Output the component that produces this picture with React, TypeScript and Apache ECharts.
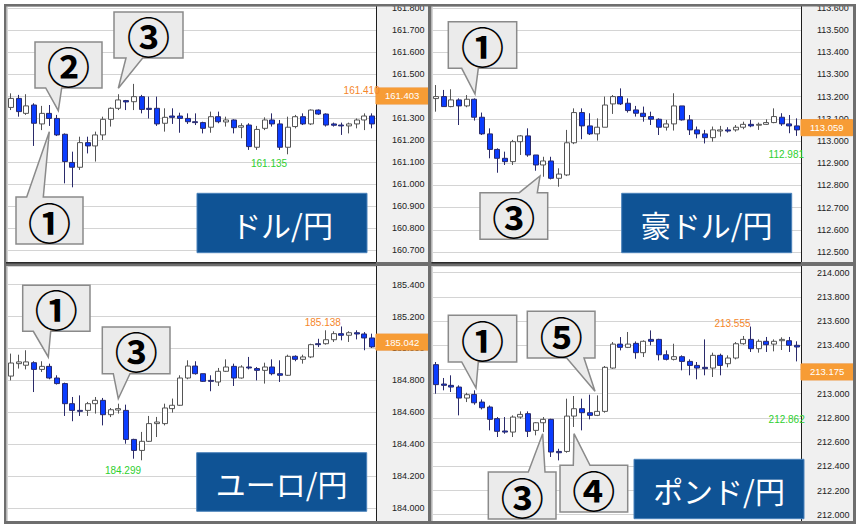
import React, { useEffect, useRef } from 'react';
import * as echarts from 'echarts';

// ---------- data (open, close, low, high) ----------
const categories = ['0','1','2','3','4','5','6','7','8','9','10','11','12','13','14','15','16','17','18','19','20','21','22','23','24','25','26','27','28','29','30','31','32','33','34','35','36','37','38','39','40','41','42','43','44','45','46','47'];
const dayBreakIndex = 36;

const usdJpy = [
  [161.348, 161.389, 161.336, 161.412], [161.389, 161.329, 161.306, 161.405], [161.321, 161.355, 161.314, 161.408],
  [161.359, 161.276, 161.173, 161.367], [161.273, 161.321, 161.245, 161.355], [161.321, 161.298, 161.264, 161.359],
  [161.298, 161.223, 161.218, 161.314], [161.226, 161.102, 161.003, 161.230], [161.098, 161.076, 160.985, 161.147],
  [161.076, 161.188, 161.064, 161.215], [161.188, 161.173, 161.139, 161.215], [161.173, 161.223, 161.102, 161.238],
  [161.223, 161.294, 161.200, 161.306], [161.294, 161.344, 161.261, 161.348], [161.344, 161.382, 161.336, 161.408],
  [161.379, 161.373, 161.336, 161.382], [161.374, 161.397, 161.336, 161.455], [161.397, 161.339, 161.321, 161.405],
  [161.344, 161.339, 161.298, 161.397], [161.344, 161.273, 161.264, 161.397], [161.276, 161.303, 161.238, 161.344],
  [161.309, 161.303, 161.273, 161.344], [161.309, 161.298, 161.233, 161.324], [161.298, 161.283, 161.273, 161.321],
  [161.283, 161.279, 161.268, 161.321], [161.279, 161.253, 161.230, 161.283], [161.258, 161.306, 161.233, 161.329],
  [161.306, 161.283, 161.276, 161.329], [161.282, 161.291, 161.261, 161.306], [161.291, 161.256, 161.230, 161.294],
  [161.258, 161.265, 161.208, 161.276], [161.268, 161.170, 161.155, 161.276], [161.167, 161.248, 161.155, 161.264],
  [161.253, 161.291, 161.245, 161.303], [161.291, 161.273, 161.261, 161.321], [161.273, 161.167, 161.155, 161.291],
  [161.167, 161.258, 161.135, 161.306], [161.261, 161.306, 161.253, 161.314], [161.306, 161.273, 161.268, 161.321],
  [161.273, 161.336, 161.268, 161.339], [161.336, 161.318, 161.314, 161.339], [161.318, 161.268, 161.261, 161.321],
  [161.273, 161.267, 161.261, 161.279], [161.268, 161.264, 161.223, 161.279], [161.264, 161.273, 161.230, 161.279],
  [161.273, 161.291, 161.253, 161.298], [161.291, 161.309, 161.245, 161.321], [161.309, 161.273, 161.253, 161.321],
];

const audJpy = [
  [113.191, 113.200, 113.132, 113.252], [113.200, 113.155, 113.155, 113.230], [113.155, 113.185, 113.152, 113.233],
  [113.185, 113.158, 113.072, 113.192], [113.158, 113.188, 113.152, 113.207], [113.188, 113.107, 113.092, 113.192],
  [113.107, 113.032, 113.027, 113.128], [113.032, 112.962, 112.922, 113.057], [112.962, 112.922, 112.857, 112.967],
  [112.922, 112.907, 112.892, 112.952], [112.907, 112.997, 112.892, 113.005], [112.997, 113.023, 112.937, 113.027],
  [113.023, 112.937, 112.929, 113.057], [112.937, 112.892, 112.866, 112.937], [112.892, 112.910, 112.839, 112.929],
  [112.910, 112.832, 112.827, 112.929], [112.832, 112.851, 112.794, 112.877], [112.847, 112.992, 112.842, 113.050],
  [112.992, 113.128, 112.986, 113.147], [113.128, 113.068, 113.008, 113.147], [113.068, 113.032, 113.027, 113.125],
  [113.032, 113.062, 113.002, 113.102], [113.062, 113.162, 113.062, 113.200], [113.167, 113.200, 113.122, 113.207],
  [113.200, 113.167, 113.162, 113.237], [113.170, 113.137, 113.128, 113.192], [113.140, 113.125, 113.110, 113.158],
  [113.125, 113.110, 113.087, 113.155], [113.110, 113.098, 113.072, 113.132], [113.098, 113.062, 113.027, 113.102],
  [113.062, 113.077, 113.047, 113.095], [113.077, 113.158, 113.047, 113.215], [113.158, 113.095, 113.092, 113.158],
  [113.095, 113.050, 113.027, 113.117], [113.050, 113.032, 113.012, 113.065], [113.032, 113.015, 112.989, 113.050],
  [113.015, 113.050, 112.997, 113.065], [113.045, 113.050, 113.020, 113.068], [113.050, 113.045, 113.038, 113.062],
  [113.050, 113.062, 113.042, 113.072], [113.062, 113.075, 113.053, 113.087], [113.075, 113.068, 113.062, 113.095],
  [113.071, 113.075, 113.050, 113.083], [113.075, 113.083, 113.072, 113.098], [113.083, 113.110, 113.080, 113.147],
  [113.107, 113.077, 113.068, 113.125], [113.077, 113.068, 113.035, 113.117], [113.068, 113.050, 113.023, 113.102],
];

const eurJpy = [
  [184.827, 184.909, 184.800, 184.968], [184.905, 184.916, 184.874, 184.961], [184.895, 184.916, 184.869, 184.989],
  [184.911, 184.869, 184.727, 184.920], [184.869, 184.888, 184.853, 184.920], [184.888, 184.815, 184.807, 184.905],
  [184.815, 184.780, 184.774, 184.832], [184.780, 184.654, 184.577, 184.786], [184.654, 184.612, 184.544, 184.696],
  [184.612, 184.606, 184.577, 184.706], [184.612, 184.654, 184.577, 184.665], [184.654, 184.675, 184.592, 184.696],
  [184.675, 184.585, 184.518, 184.690], [184.585, 184.616, 184.570, 184.627], [184.614, 184.623, 184.592, 184.654],
  [184.612, 184.430, 184.403, 184.648], [184.430, 184.361, 184.309, 184.434], [184.361, 184.418, 184.299, 184.477],
  [184.418, 184.529, 184.414, 184.577], [184.529, 184.539, 184.445, 184.571], [184.529, 184.627, 184.518, 184.654],
  [184.623, 184.644, 184.598, 184.686], [184.644, 184.815, 184.640, 184.832], [184.815, 184.890, 184.807, 184.926],
  [184.890, 184.842, 184.836, 184.920], [184.842, 184.794, 184.790, 184.842], [184.800, 184.794, 184.732, 184.832],
  [184.790, 184.857, 184.765, 184.878], [184.857, 184.884, 184.853, 184.932], [184.888, 184.815, 184.765, 184.905],
  [184.815, 184.884, 184.811, 184.895], [184.884, 184.878, 184.869, 184.947], [184.874, 184.863, 184.800, 184.884],
  [184.863, 184.884, 184.780, 184.911], [184.884, 184.842, 184.832, 184.932], [184.842, 184.832, 184.790, 184.926],
  [184.832, 184.951, 184.828, 184.961], [184.951, 184.932, 184.920, 184.957], [184.932, 184.947, 184.905, 184.961],
  [184.947, 185.024, 184.940, 185.030], [185.030, 185.024, 185.009, 185.061], [185.030, 185.055, 185.024, 185.114],
  [185.055, 185.093, 185.041, 185.108], [185.093, 185.083, 185.051, 185.138], [185.083, 185.099, 185.041, 185.108],
  [185.099, 185.091, 185.057, 185.114], [185.091, 185.066, 184.989, 185.103], [185.066, 185.010, 185.003, 185.093],
];

const gbpJpy = [
  [213.240, 213.075, 213.000, 213.262], [213.080, 213.069, 213.028, 213.130], [213.069, 213.055, 213.014, 213.152],
  [213.055, 212.964, 212.821, 213.069], [212.964, 212.992, 212.931, 213.008], [212.994, 212.925, 212.909, 213.028],
  [212.931, 212.884, 212.870, 212.953], [212.890, 212.788, 212.697, 212.903], [212.794, 212.689, 212.642, 212.807],
  [212.692, 212.683, 212.669, 212.807], [212.683, 212.807, 212.642, 212.821], [212.807, 212.829, 212.793, 212.854],
  [212.835, 212.689, 212.642, 212.854], [212.697, 212.760, 212.656, 212.766], [212.760, 212.788, 212.683, 212.807],
  [212.788, 212.518, 212.477, 212.793], [212.523, 212.512, 212.449, 212.545], [212.523, 212.815, 212.512, 212.959],
  [212.815, 212.876, 212.725, 212.981], [212.876, 212.843, 212.697, 212.959], [212.843, 212.821, 212.788, 212.992],
  [212.821, 212.854, 212.815, 212.986], [212.854, 213.218, 212.843, 213.229], [213.212, 213.410, 213.206, 213.427],
  [213.410, 213.383, 213.358, 213.468], [213.383, 213.410, 213.377, 213.510], [213.416, 213.339, 213.289, 213.432],
  [213.339, 213.433, 213.303, 213.441], [213.449, 213.433, 213.400, 213.523], [213.449, 213.322, 213.275, 213.454],
  [213.322, 213.284, 213.275, 213.358], [213.284, 213.306, 213.275, 213.413], [213.306, 213.267, 213.193, 213.317],
  [213.267, 213.234, 213.152, 213.284], [213.234, 213.212, 213.119, 213.262], [213.218, 213.207, 213.152, 213.449],
  [213.212, 213.317, 213.138, 213.339], [213.317, 213.234, 213.152, 213.331], [213.248, 213.295, 213.218, 213.317],
  [213.295, 213.413, 213.284, 213.427], [213.413, 213.449, 213.405, 213.477], [213.449, 213.372, 213.345, 213.555],
  [213.372, 213.433, 213.339, 213.449], [213.433, 213.405, 213.345, 213.469], [213.410, 213.433, 213.350, 213.449],
  [213.438, 213.449, 213.361, 213.466], [213.438, 213.400, 213.345, 213.469], [213.400, 213.386, 213.267, 213.433],
];

// current price tags
const tagValues = [161.403, 113.059, 185.042, 213.175];
// high / low annotation values and candle index they are attached to
const usdMarks = [[36, 161.135], [44, 161.410]];
const audMarks = [[44, 112.981]];
const eurMarks = [[17, 184.299], [43, 185.138]];
const gbpMarks = [[41, 213.555], [44, 212.862]];
const titles = ['ドル/円', '豪ドル/円', 'ユーロ/円', 'ポンド/円'];

// ---------- layout / styles ----------
const GREEN = '#2fcf2f';
const ORANGE = '#f5862a';
const AXFONT = 'Liberation Sans';

type MarkStyle = { color: string; position: string; offset: number[] };
const markStyleLow: MarkStyle = { color: GREEN, position: 'left', offset: [0, 9] };
const markStyleHighL: MarkStyle = { color: ORANGE, position: 'left', offset: [0, -3.5] };
const markStyleRight = (color: string, dy: number): MarkStyle => ({ color, position: 'right', offset: [-6, dy] });

const panels = [
  { data: usdJpy, left: 7, top: 6, width: 369, height: 256, min: 160.6455, max: 161.809, step: 0.1,
    marks: usdMarks, markStyles: [markStyleLow, markStyleRight(ORANGE, -3)] },
  { data: audJpy, left: 432, top: 6, width: 369, height: 256, min: 112.455, max: 113.608, step: 0.1,
    marks: audMarks, markStyles: [markStyleRight(GREEN, 9)] },
  { data: eurJpy, left: 7, top: 266, width: 369, height: 255, min: 183.9185, max: 185.5172, step: 0.2,
    marks: eurMarks, markStyles: [{ ...markStyleLow, offset: [0, 10] }, markStyleHighL] },
  { data: gbpJpy, left: 432, top: 266, width: 369, height: 255, min: 211.948, max: 214.0554, step: 0.2,
    marks: gbpMarks, markStyles: [markStyleHighL, markStyleRight(GREEN, 9)] },
];

const titleBoxes = [
  { x: 197, y: 193.3, w: 170, h: 59.4 },
  { x: 621.7, y: 193.3, w: 170, h: 59.4 },
  { x: 196.7, y: 452.7, w: 170, h: 58.6 },
  { x: 634, y: 459.3, w: 170, h: 59.4 },
];

type Bubble = { x: number; y: number; w: number; h: number; edge: 'top' | 'bottom'; t1: number; t2: number; tip: number[]; label: string };
const bubbles: Bubble[] = [
  { x: 35, y: 42, w: 67, h: 46, edge: 'bottom', t1: 45.7, t2: 61.7, tip: [58.3, 110.7], label: '②' },
  { x: 114, y: 12, w: 69, h: 46, edge: 'bottom', t1: 126, t2: 142.7, tip: [118.3, 88.3], label: '③' },
  { x: 16, y: 197, w: 67, h: 47, edge: 'top', t1: 26.7, t2: 43.3, tip: [49.3, 131.7], label: '①' },
  { x: 448.3, y: 21.7, w: 68.4, h: 46.6, edge: 'bottom', t1: 461.7, t2: 478.3, tip: [475, 94], label: '①' },
  { x: 480, y: 192.7, w: 67.7, h: 46.6, edge: 'top', t1: 519.3, t2: 537.3, tip: [540, 176], label: '③' },
  { x: 22.7, y: 285.3, w: 67.3, h: 46, edge: 'bottom', t1: 33.3, t2: 50.7, tip: [48.3, 357], label: '①' },
  { x: 102.3, y: 327, w: 67.7, h: 46.7, edge: 'bottom', t1: 113.3, t2: 130, tip: [118.3, 398.7], label: '③' },
  { x: 448.3, y: 315.3, w: 68.4, h: 46.7, edge: 'bottom', t1: 461.7, t2: 478.3, tip: [476, 388], label: '①' },
  { x: 527.3, y: 311.3, w: 67.7, h: 46.7, edge: 'bottom', t1: 566.7, t2: 584, tip: [595, 391.3], label: '⑤' },
  { x: 488.3, y: 472, w: 67.7, h: 47, edge: 'top', t1: 528.3, t2: 545, tip: [542.7, 433.7], label: '③' },
  { x: 560, y: 465.3, w: 67.7, h: 46.7, edge: 'top', t1: 573.3, t2: 590, tip: [574, 433.7], label: '④' },
];

function bubblePoints(b: Bubble): number[][] {
  const r = b.x + b.w, bt = b.y + b.h;
  if (b.edge === 'bottom') {
    return [[b.x, b.y], [r, b.y], [r, bt], [b.t2, bt], b.tip, [b.t1, bt], [b.x, bt]];
  }
  return [[b.x, b.y], [b.t1, b.y], b.tip, [b.t2, b.y], [r, b.y], [r, bt], [b.x, bt]];
}

function buildOption() {
  const graphics: any[] = [];
  // panel backgrounds
  panels.forEach((p) => {
    graphics.push({ type: 'rect', z: -10, shape: { x: p.left - 1, y: p.top, width: p.width + 1, height: p.height }, style: { fill: '#ffffff' } });
    graphics.push({ type: 'rect', z: -10, shape: { x: p.left + p.width, y: p.top, width: 52, height: p.height }, style: { fill: '#f0f0f0' } });
  });
  // frame
  const FR = '#6e6e6e';
  graphics.push({ type: 'rect', z: 50, shape: { x: 0, y: 0, width: 859, height: 4 }, style: { fill: '#ffffff' } });
  [
    { x: 4, y: 4, width: 852, height: 2.5 },
    { x: 4, y: 262, width: 852, height: 4 },
    { x: 4, y: 521, width: 852, height: 3 },
    { x: 4, y: 4, width: 2.5, height: 520 },
    { x: 428, y: 4, width: 3.5, height: 520 },
    { x: 853, y: 4, width: 3, height: 520 },
  ].forEach((s) => graphics.push({ type: 'rect', z: 50, shape: s, style: { fill: FR } }));
  [
    { x: 6, y: 262, width: 370, height: 1.5 },
    { x: 431.5, y: 262, width: 369.5, height: 1.5 },
  ].forEach((s) => graphics.push({ type: 'rect', z: 51, shape: s, style: { fill: '#2a2a2a' } }));

  // title boxes
  titleBoxes.forEach((t, i) => {
    graphics.push({ type: 'rect', z: 100, shape: { x: t.x, y: t.y, width: t.w, height: t.h }, style: { fill: '#0f5395', stroke: '#4a82bb', lineWidth: 1 } });
    graphics.push({ type: 'text', z: 101, x: t.x + t.w / 2, y: t.y + t.h / 2 + 1,
      style: { text: titles[i], fill: '#ffffff', fontSize: 30, fontFamily: 'Noto Sans CJK JP', fontWeight: 'normal', align: 'center', verticalAlign: 'middle' } });
  });

  // callout bubbles
  bubbles.forEach((b) => {
    graphics.push({ type: 'polygon', z: 100, shape: { points: bubblePoints(b) }, style: { fill: '#ebebeb', stroke: '#8a8a8a', lineWidth: 1.5 } });
    graphics.push({ type: 'text', z: 101, x: b.x + b.w / 2, y: b.y + b.h / 2,
      style: { text: b.label, fill: '#000000', fontSize: 43, fontFamily: 'Noto Sans CJK JP', fontWeight: 'bold', align: 'center', verticalAlign: 'middle' } });
  });

  return {
    animation: false,
    backgroundColor: '#ffffff',
    grid: panels.map((p) => ({ left: p.left, top: p.top, width: p.width, height: p.height })),
    xAxis: panels.map((p, i) => ({
      type: 'category', gridIndex: i, data: categories, boundaryGap: true,
      axisLine: { show: false }, axisTick: { show: false }, axisLabel: { show: false },
      splitLine: { show: true, interval: (idx: number) => idx === dayBreakIndex, lineStyle: { color: '#d4d4d4', width: 1 } },
    })),
    yAxis: panels.map((p, i) => ({
      type: 'value', gridIndex: i, position: 'right', min: p.min, max: p.max,
      minInterval: p.step, maxInterval: p.step,
      axisLine: { show: true, lineStyle: { color: '#1e1e1e', width: 1 } },
      axisTick: { show: false },
      axisLabel: { show: true, margin: 16, fontSize: 9, color: '#222', fontFamily: AXFONT,
        showMinLabel: false, showMaxLabel: false,
        // labels fully hidden under the current-price tag are not drawn
        formatter: (v: number) => (Math.abs(v - tagValues[i]) < p.step * 0.2 ? '' : v.toFixed(3)) },
      splitLine: { show: true, lineStyle: { color: '#d4d4d4', width: 1 } },
    })),
    series: panels.map((p, i) => ({
      type: 'candlestick', xAxisIndex: i, yAxisIndex: i, data: p.data, barWidth: 5.5,
      itemStyle: { color: '#ffffff', color0: '#0a3cff', borderColor: '#555555', borderColor0: '#2a2a6a', borderWidth: 1 },
      markLine: {
        silent: true, symbol: ['none', 'none'], lineStyle: { color: 'rgba(0,0,0,0)', width: 0, type: 'solid' },
        emphasis: { disabled: true },
        data: [{ yAxis: tagValues[i] }],
        label: { show: true, position: 'end', distance: 0, formatter: tagValues[i].toFixed(3), color: '#ffffff',
          backgroundColor: '#f79c35', borderColor: '#ee8a25', borderWidth: 0.5,
          fontSize: 9.5, fontFamily: AXFONT, padding: [3, 9, 3, 9] },
      },
      markPoint: {
        silent: true,
        data: p.marks.map((m, k) => ({
          coord: [m[0], m[1]], symbol: 'rect', symbolSize: 1, itemStyle: { color: 'rgba(0,0,0,0)' },
          label: { show: true, position: p.markStyles[k].position, distance: 0, offset: p.markStyles[k].offset,
            formatter: m[1].toFixed(3), color: p.markStyles[k].color, fontSize: 10, fontFamily: AXFONT },
        })),
      },
    })),
    graphic: { elements: graphics },
  };
}

export default function App() {
  const ref = useRef<HTMLDivElement>(null);
  useEffect(() => {
    document.body.style.margin = '0';
    const chart = echarts.init(ref.current as HTMLDivElement, undefined, { renderer: 'svg', width: 859, height: 525 });
    chart.setOption(buildOption() as any);
    return () => chart.dispose();
  }, []);
  return <div ref={ref} style={{ width: 859, height: 525, position: 'absolute', left: 0, top: 0 }} />;
}
